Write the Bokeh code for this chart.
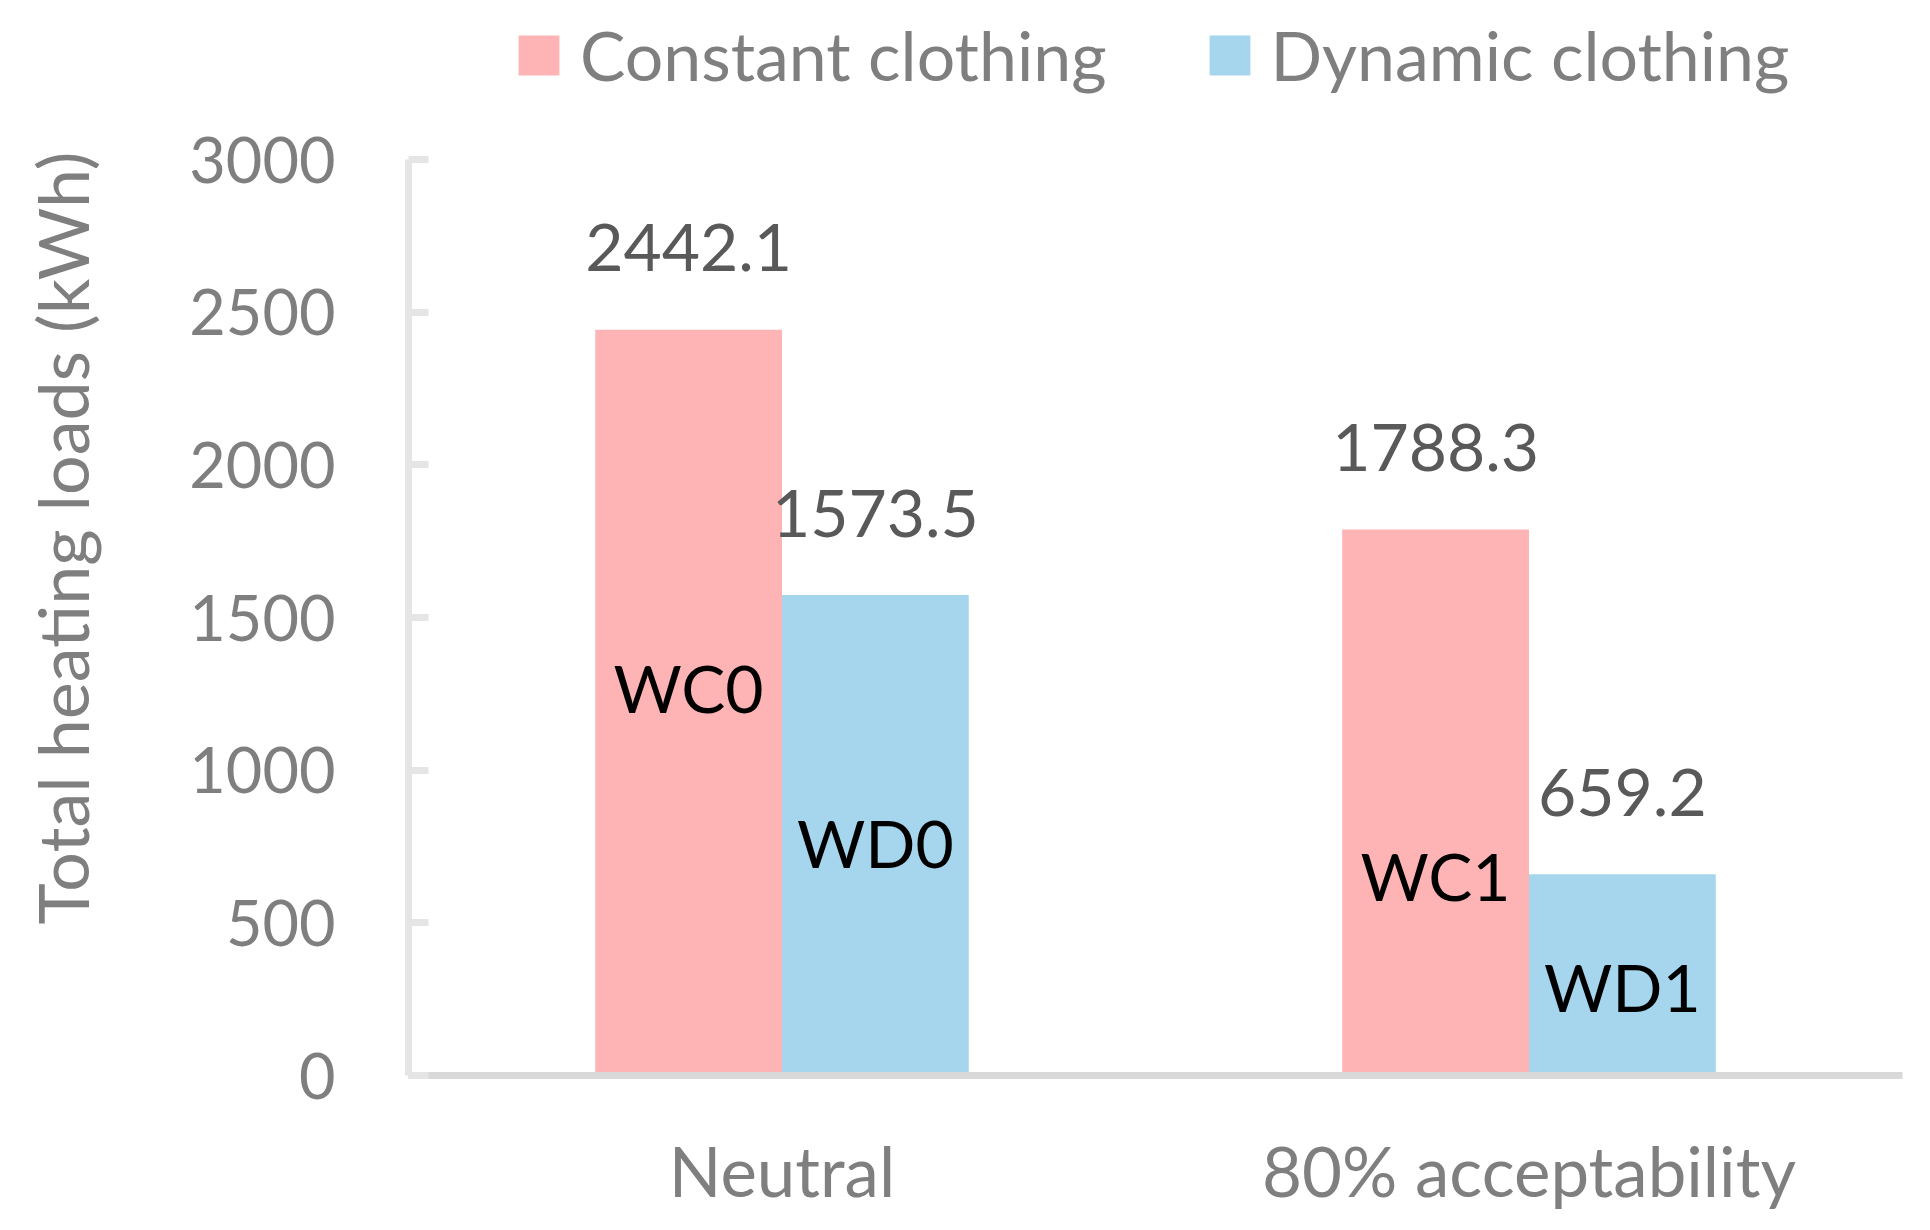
from bokeh.plotting import figure
from bokeh.models import (ColumnDataSource, FactorRange, Range1d, Legend, LegendItem,
                          FixedTicker)
from bokeh.transform import dodge
from bokeh.core.properties import value
from bokeh.embed import file_html
from bokeh.resources import INLINE

# ---------------- data ----------------
categories = ["Neutral", "80% acceptability"]
series_names = ["Constant clothing", "Dynamic clothing"]
constant_values = [2442.1, 1788.3]
dynamic_values = [1573.5, 659.2]
constant_tags = ["WC0", "WC1"]
dynamic_tags = ["WD0", "WD1"]
y_ticks = [0, 500, 1000, 1500, 2000, 2500, 3000]
y_title = "Total heating loads (kWh)"

# ---------------- style / layout ----------------
FONT = "Lato"
FS = "66px"
PINK = "#FEB4B4"
BLUE = "#A6D5EE"
GRAY = "#7F7F7F"
DARK = "#595959"
AXIS_MAX = 3000
FRAME_BOTTOM_PX = 1075      # pixel row of the value 0
TOP_TICK_PX = 159           # pixel row of the value AXIS_MAX
# the frame reaches the top of the canvas so that the legend fits inside it
view_top = AXIS_MAX * FRAME_BOTTOM_PX / (FRAME_BOTTOM_PX - TOP_TICK_PX)
# vertical placement of the in-bar tags, as a fraction of the bar height
tag_frac_const = [0.487, 0.32]
tag_frac_dyn = [0.433, 0.318]

src_c = ColumnDataSource(dict(
    cat=categories, val=constant_values,
    lab=[f"{v:.1f}" for v in constant_values], tag=constant_tags,
    tag_y=[v * f for v, f in zip(constant_values, tag_frac_const)]))
src_d = ColumnDataSource(dict(
    cat=categories, val=dynamic_values,
    lab=[f"{v:.1f}" for v in dynamic_values], tag=dynamic_tags,
    tag_y=[v * f for v, f in zip(dynamic_values, tag_frac_dyn)]))

p = figure(x_range=FactorRange(factors=categories, range_padding=0),
           y_range=Range1d(0, view_top),
           width=1914, height=1214,
           output_backend="svg", toolbar_location=None,
           min_border_left=408, min_border_right=12,
           min_border_top=0, min_border_bottom=1214 - FRAME_BOTTOM_PX)
p.outline_line_color = None
p.xgrid.visible = False
p.ygrid.visible = False
p.background_fill_color = "white"
p.border_fill_color = "white"

r1 = p.vbar(x=dodge("cat", -0.125, range=p.x_range), top="val", width=0.25,
            source=src_c, fill_color=PINK, line_color=None)
r2 = p.vbar(x=dodge("cat", 0.125, range=p.x_range), top="val", width=0.25,
            source=src_d, fill_color=BLUE, line_color=None)

for src, off in ((src_c, -0.125), (src_d, 0.125)):
    p.text(x=dodge("cat", off, range=p.x_range), y="val", text="lab",
           y_offset=-82, text_align="center", text_baseline="alphabetic",
           text_font=value(FONT), text_font_size=FS, text_color=DARK, source=src)
    p.text(x=dodge("cat", off, range=p.x_range), y="tag_y", text="tag",
           y_offset=-25, text_align="center", text_baseline="alphabetic",
           text_font=value(FONT), text_font_size=FS, text_color="black", source=src)

# y axis
ya = p.yaxis[0]
ya.ticker = FixedTicker(ticks=y_ticks)
ya.bounds = (0, AXIS_MAX)
ya.axis_line_color = "#E5E5E5"
ya.axis_line_width = 7
ya.major_tick_line_color = "#E5E5E5"
ya.major_tick_line_width = 7
ya.major_tick_in = 20
ya.major_tick_out = 0
ya.minor_tick_line_color = None
ya.major_label_standoff = 73
ya.major_label_text_font = FONT
ya.major_label_text_font_size = "63px"
ya.major_label_text_color = GRAY
ya.axis_label = y_title
ya.axis_label_standoff = 82
ya.axis_label_text_font = FONT
ya.axis_label_text_font_size = "70px"
ya.axis_label_text_font_style = "normal"
ya.axis_label_text_color = GRAY

# x axis
xa = p.xaxis[0]
xa.axis_line_color = "#D9D9D9"
xa.axis_line_width = 7
xa.major_tick_line_color = None
xa.major_tick_in = 0
xa.major_tick_out = 0
xa.minor_tick_line_color = None
xa.major_label_standoff = 53
xa.major_label_text_font = FONT
xa.major_label_text_font_size = "69px"
xa.major_label_text_color = GRAY

legend = Legend(items=[LegendItem(label=series_names[0], renderers=[r1]),
                       LegendItem(label=series_names[1], renderers=[r2])],
                orientation="horizontal", location=(105, 980),
                glyph_width=51, glyph_height=50, label_standoff=16, spacing=97,
                padding=0, margin=0, border_line_color=None,
                background_fill_alpha=0,
                label_text_font=FONT, label_text_font_size="68px",
                label_text_color=GRAY)
p.add_layout(legend)

open("out.html", "w").write(file_html(p, INLINE))
